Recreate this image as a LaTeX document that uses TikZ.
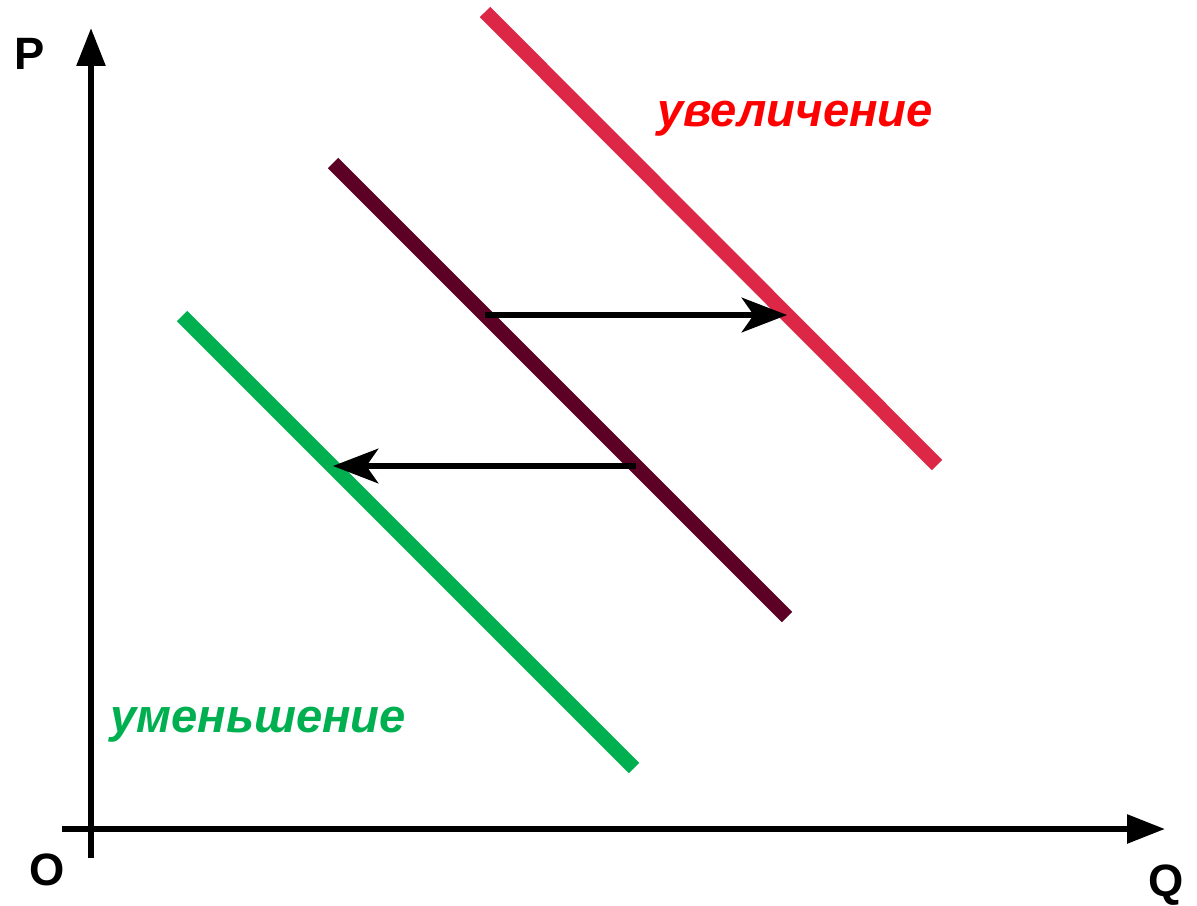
\documentclass[tikz,border=0pt]{standalone}
\usepackage{fontspec}
\setmainfont{Liberation Sans}
\usetikzlibrary{arrows.meta}

\definecolor{upred}{RGB}{220,40,70}
\definecolor{basecol}{RGB}{92,0,37}
\definecolor{downgreen}{RGB}{0,176,80}
\definecolor{txtred}{RGB}{255,0,0}

\begin{document}
\begin{tikzpicture}[x=0.75pt,y=-0.75pt,
  axis/.style={line width=4.3pt,-{Triangle[length=28.5pt,width=21pt]}},
  curve/.style={line width=11pt},
  shiftarrow/.style={line width=3.8pt,-{Stealth[length=34pt,width=26pt,inset=9pt]}},
  axlabel/.style={font=\fontsize{34}{34}\selectfont\bfseries,inner sep=0pt},
  tag/.style={font=\fontsize{35.4}{35.4}\selectfont\bfseries\itshape,inner sep=0pt,anchor=base}]
\useasboundingbox (0,0) rectangle (1197,906);
% axes
\coordinate (ybot) at (91,858);
\coordinate (ytop) at (91,28);
\coordinate (xleft) at (62,829);
\coordinate (xright) at (1165,829);
\draw[axis] (ybot) -- (ytop);
\draw[axis] (xleft) -- (xright);
\node[axlabel] (P) at (30,54) {P};
\node[axlabel] (O) at (47,870) {O};
\node[axlabel] (Q) at (1166,885) {Q};
% three demand lines
\coordinate (r1) at (485,12);
\coordinate (r2) at (937,465);
\coordinate (d1) at (333,163);
\coordinate (d2) at (787,617);
\coordinate (g1) at (182,316);
\coordinate (g2) at (634,768);
\draw[curve,upred] (r1) -- (r2);
\draw[curve,basecol] (d1) -- (d2);
\draw[curve,downgreen] (g1) -- (g2);
% shifts
\coordinate (a1) at (485,315);
\coordinate (b1) at (787,315);
\coordinate (a2) at (636,466);
\coordinate (b2) at (333,466);
\draw[shiftarrow] (a1) -- (b1);
\draw[shiftarrow] (a2) -- (b2);
\node[tag,txtred] (up) at (795,127) {увеличение};
\node[tag,downgreen] (down) at (258,732) {уменьшение};
\end{tikzpicture}
\end{document}
